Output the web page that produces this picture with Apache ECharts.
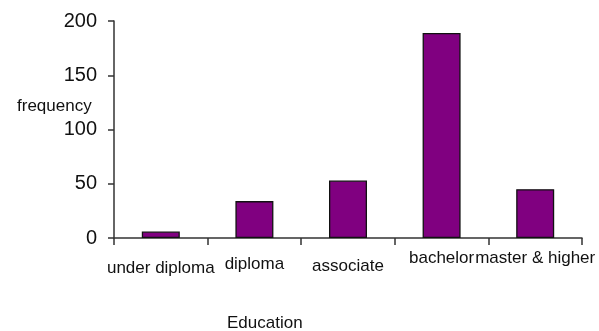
<!DOCTYPE html>
<html>
<head>
<meta charset="utf-8">
<script src="https://cdn.jsdelivr.net/npm/echarts@6/dist/echarts.min.js"></script>
<style>
  html, body { margin: 0; padding: 0; background: #fff; }
  #chart { width: 599px; height: 331px; }
</style>
</head>
<body>
<div id="chart"></div>
<script>
// Survey respondents by education level
const categories = ['under diploma', 'diploma', 'associate', 'bachelor', 'master & higher'];
const frequency = [6, 34, 53, 189, 45];
const yTicks = { min: 0, max: 200, interval: 50 };

const FONT = '"Liberation Sans", Arial, sans-serif';
const TEXT = '#111';

// small vertical nudges for each category label (px below the base line)
const labelDrop = { 'under diploma': 10, 'diploma': 6, 'associate': 8, 'bachelor': 0, 'master & higher': 0 };
const rich = {};
categories.forEach(function (c, i) {
  rich['c' + i] = { fontFamily: FONT, fontSize: 17, color: TEXT, padding: [labelDrop[c], 0, 0, 0] };
});

const chart = echarts.init(document.getElementById('chart'), null, { renderer: 'canvas' });
chart.setOption({
  animation: false,
  backgroundColor: '#ffffff',
  title: [
    { text: 'frequency', left: 12, top: 93,
      textStyle: { fontFamily: FONT, fontSize: 17, fontWeight: 'normal', color: TEXT } },
    { text: 'Education', left: 222, top: 310,
      textStyle: { fontFamily: FONT, fontSize: 17, fontWeight: 'normal', color: TEXT } }
  ],
  grid: { left: 114, right: 17, top: 21, bottom: 93, containLabel: false },
  xAxis: {
    type: 'category',
    data: categories,
    boundaryGap: true,
    axisLine: { lineStyle: { color: '#333', width: 1.5 } },
    axisTick: { show: true, length: 7, alignWithLabel: false, lineStyle: { color: '#333', width: 1.5 } },
    axisLabel: {
      interval: 0, margin: 12, fontFamily: FONT, fontSize: 17, color: TEXT,
      formatter: function (v) { return '{c' + categories.indexOf(v) + '|' + v + '}'; },
      rich: rich
    }
  },
  yAxis: {
    type: 'value',
    min: yTicks.min, max: yTicks.max, interval: yTicks.interval,
    splitLine: { show: false },
    axisLine: { show: true, lineStyle: { color: '#333', width: 1.5 } },
    axisTick: { show: true, length: 6, lineStyle: { color: '#333', width: 1.5 } },
    axisLabel: { margin: 17, fontFamily: FONT, fontSize: 20, color: TEXT }
  },
  series: [{
    type: 'bar',
    data: frequency,
    barWidth: 38,
    itemStyle: { color: '#800080', borderColor: '#111', borderWidth: 1.3 }
  }]
});
</script>
</body>
</html>
